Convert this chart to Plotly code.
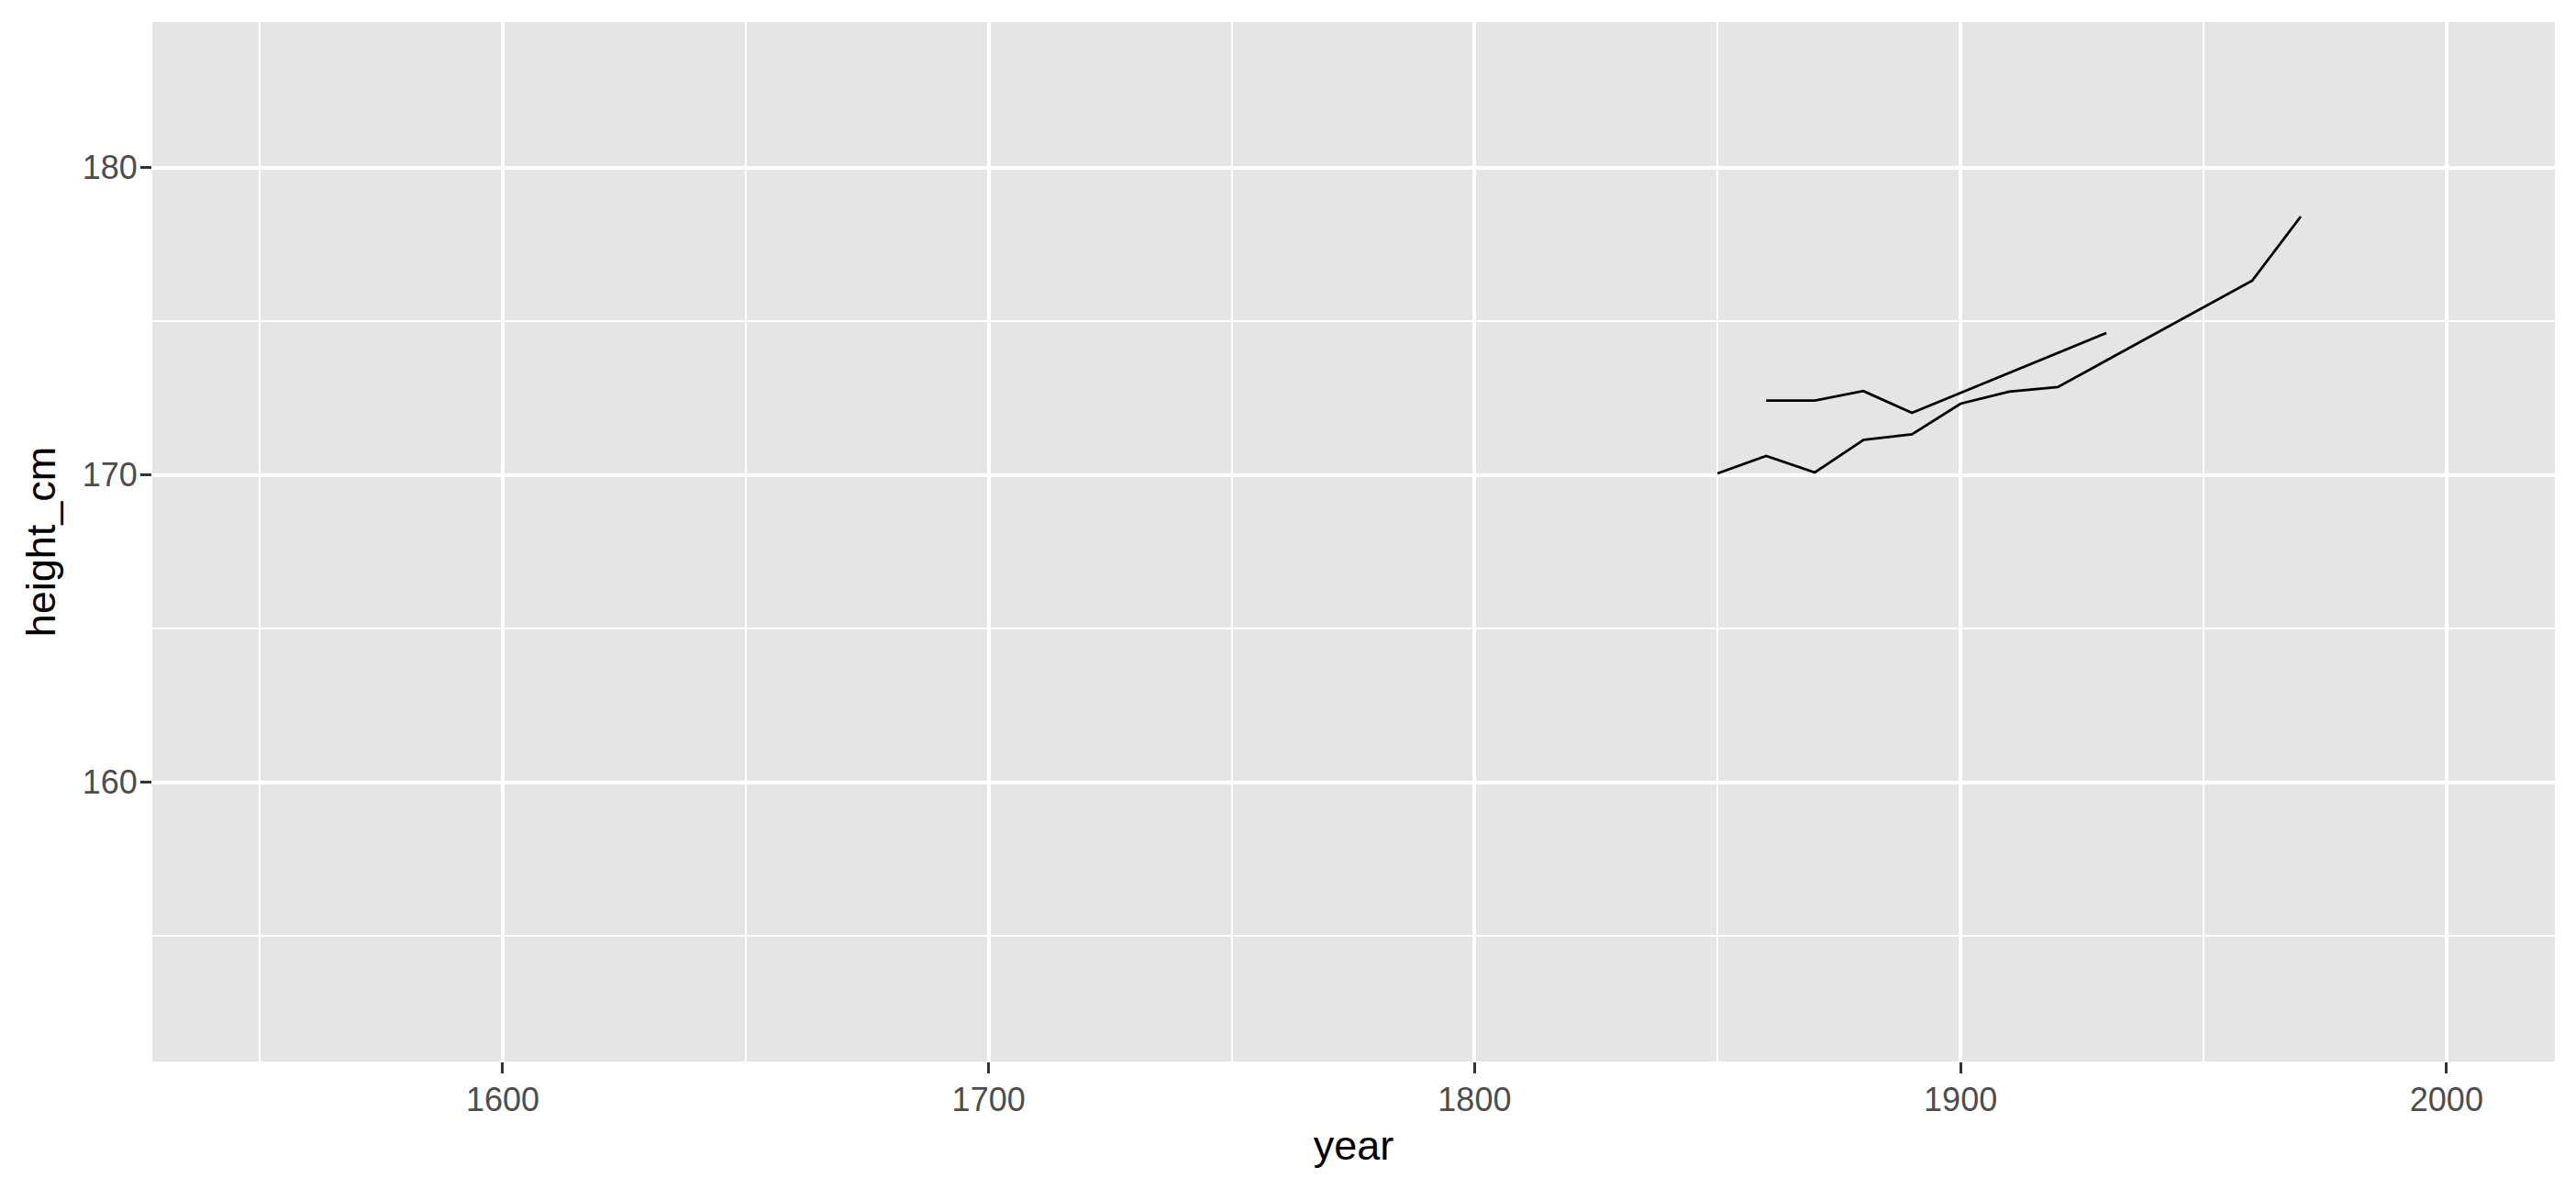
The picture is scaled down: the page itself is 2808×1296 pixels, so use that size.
import plotly.graph_objects as go

# Series A (lower, longer)
years_a = [1850, 1860, 1870, 1880, 1890, 1900, 1910, 1920, 1960, 1970]
height_a = [170.05, 170.62, 170.08, 171.14, 171.32, 172.32, 172.71, 172.86, 176.32, 178.41]

# Series B (upper, shorter)
years_b = [1860, 1870, 1880, 1890, 1930]
height_b = [172.42, 172.42, 172.73, 172.02, 174.62]

x_ticks = [1600, 1700, 1800, 1900, 2000]
y_ticks = [160, 170, 180]

FONT = "Liberation Sans, Arial, Helvetica, sans-serif"

fig = go.Figure()
for xs, ys in [(years_a, height_a), (years_b, height_b)]:
    fig.add_trace(go.Scatter(x=xs, y=ys, mode="lines",
                             line=dict(color="black", width=2.8),
                             showlegend=False, hoverinfo="skip"))

axis_common = dict(
    showline=False, zeroline=False,
    gridcolor="white", gridwidth=4,
    ticks="outside", ticklen=12, tickwidth=2.5, tickcolor="#333333",
    tickfont=dict(family=FONT, size=36, color="#4D4D4D"),
)

fig.update_xaxes(
    range=[1527.9, 2022.3], tickvals=x_ticks, ticktext=[str(v) for v in x_ticks],
    minor=dict(tick0=1550, dtick=100, showgrid=True, gridcolor="white", gridwidth=2, ticklen=0),
    title=dict(text="year", font=dict(family=FONT, size=45, color="black"), standoff=14),
    ticklabelstandoff=-2,
    **axis_common,
)
fig.update_yaxes(
    range=[150.91, 184.74], tickvals=y_ticks, ticktext=[str(v) for v in y_ticks],
    minor=dict(tick0=155, dtick=10, showgrid=True, gridcolor="white", gridwidth=2, ticklen=0),
    title=dict(text="height_cm", font=dict(family=FONT, size=45, color="black"), standoff=14),
    ticklabelstandoff=-4,
    **axis_common,
)

fig.update_layout(
    width=2808, height=1296,
    margin=dict(l=158, r=31, t=16, b=147),
    plot_bgcolor="#E5E5E5", paper_bgcolor="white",
    font=dict(family=FONT),
)

fig.write_html("out.html")
